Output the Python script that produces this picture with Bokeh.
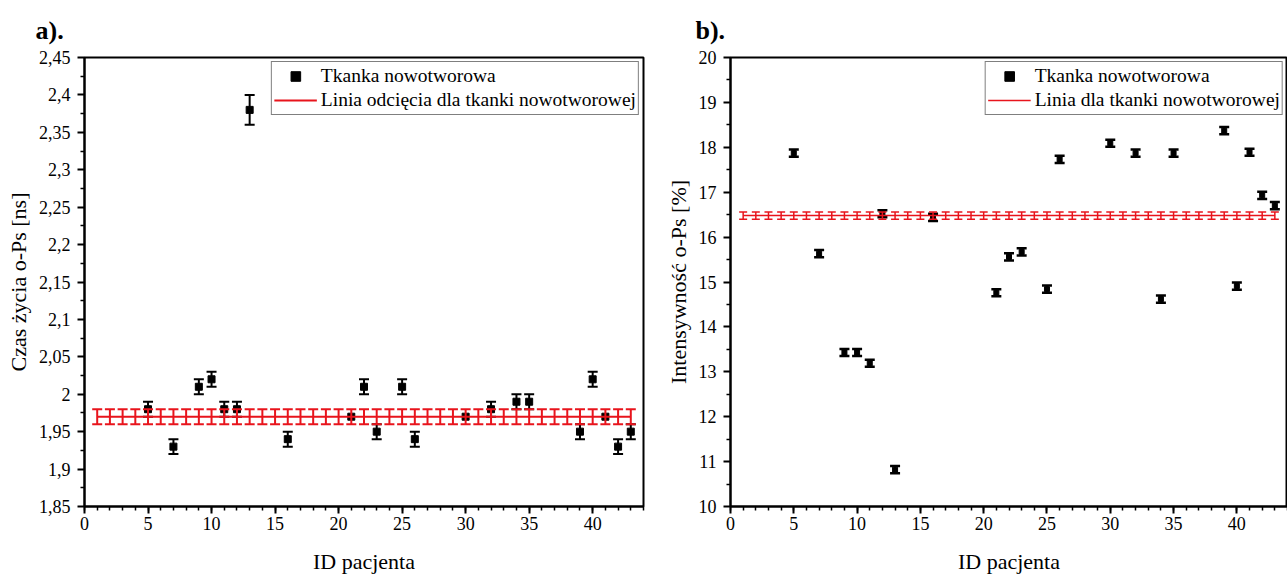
from bokeh.plotting import figure
from bokeh.layouts import row
from bokeh.models import (FixedTicker, CustomJSTickFormatter, Legend, LegendItem,
                          Range1d)
from bokeh.embed import file_html
from bokeh.resources import INLINE

# ---------------- data ----------------
patient_ids = [5, 7, 9, 10, 11, 12, 13, 16, 21, 22, 23, 25, 26, 30, 32, 34, 35, 39, 40, 41, 42, 43]
lifetime_ns = [1.98, 1.93, 2.01, 2.02, 1.98, 1.98, 2.38, 1.94, 1.97, 2.01, 1.95,
               2.01, 1.94, 1.97, 1.98, 1.99, 1.99, 1.95, 2.02, 1.97, 1.93, 1.95]
lifetime_err = [0.01, 0.01, 0.01, 0.01, 0.01, 0.01, 0.02, 0.01, 0.0, 0.01, 0.01,
                0.01, 0.01, 0.0, 0.01, 0.01, 0.01, 0.01, 0.01, 0.0, 0.01, 0.01]
intensity_pct = [17.87, 15.63, 13.43, 13.43, 13.19, 16.52, 10.82, 16.44, 14.76, 15.56, 15.67,
                 14.84, 17.73, 18.09, 17.87, 14.62, 17.87, 18.37, 14.91, 17.89, 16.93, 16.70]
intensity_err = [0.08, 0.08, 0.08, 0.08, 0.08, 0.08, 0.08, 0.08, 0.08, 0.08, 0.08,
                 0.08, 0.08, 0.08, 0.08, 0.08, 0.08, 0.08, 0.08, 0.08, 0.08, 0.08]

cutoff_ids = list(range(1, 44))
lifetime_cutoff = 1.97
lifetime_cutoff_err = 0.01
intensity_cutoff = 16.48
intensity_cutoff_err = 0.08

x_ticks = [0, 5, 10, 15, 20, 25, 30, 35, 40]
x_minor = list(range(0, 45))
lifetime_ticks = [1.85, 1.9, 1.95, 2.0, 2.05, 2.1, 2.15, 2.2, 2.25, 2.3, 2.35, 2.4, 2.45]
lifetime_minor = [1.875, 1.925, 1.975, 2.025, 2.075, 2.125, 2.175, 2.225, 2.275, 2.325, 2.375, 2.425]
intensity_ticks = [10, 11, 12, 13, 14, 15, 16, 17, 18, 19, 20]
intensity_minor = [10.5, 11.5, 12.5, 13.5, 14.5, 15.5, 16.5, 17.5, 18.5, 19.5]

FONT = "Liberation Serif"


def errorbars(p, xs, ys, errs, color, lw, cap):
    sel = [i for i in range(len(xs)) if errs[i] > 0]
    ex = [xs[i] for i in sel]
    lo = [ys[i] - errs[i] for i in sel]
    hi = [ys[i] + errs[i] for i in sel]
    p.segment(ex, lo, ex, hi, line_color=color, line_width=lw)
    p.scatter(ex, lo, marker="dash", size=cap, line_color=color, line_width=lw)
    p.scatter(ex, hi, marker="dash", size=cap, line_color=color, line_width=lw)


def make_panel(title, width, left_border, right_border, title_offset, x_end, y_lo, y_hi,
               yticks, yminor, ylabel, ys, yerr, sq_size, blk_lw, blk_cap, cut_val, cut_err,
               red_lw, red_cap, label_black, label_red, comma=False):
    p = figure(width=width, height=576, x_range=Range1d(0, x_end), y_range=Range1d(y_lo, y_hi),
               output_backend="svg", toolbar_location=None,
               min_border_left=left_border, min_border_right=right_border,
               min_border_top=57, min_border_bottom=70)
    p.grid.visible = False
    p.background_fill_color = "white"
    p.border_fill_color = "white"
    p.outline_line_color = "black"
    p.outline_line_width = 2

    p.title.text = title
    p.title.text_font = FONT
    p.title.text_font_size = "26px"
    p.title.text_font_style = "bold"
    p.title.text_color = "black"
    p.title.align = "left"
    p.title.offset = title_offset
    p.title.standoff = 25

    p.xaxis.ticker = FixedTicker(ticks=x_ticks, minor_ticks=x_minor)
    p.yaxis.ticker = FixedTicker(ticks=yticks, minor_ticks=yminor)
    if comma:
        p.yaxis.formatter = CustomJSTickFormatter(
            code=r"return tick.toFixed(2).replace(/0+$/,'').replace(/\.$/,'').replace('.', ',');")
    p.xaxis.axis_label = "ID pacjenta"
    p.yaxis.axis_label = ylabel
    for ax in (p.xaxis, p.yaxis):
        ax.axis_line_width = 2
        ax.axis_line_color = "black"
        ax.major_tick_line_width = 2
        ax.minor_tick_line_width = 1.5
        ax.major_tick_out = 7
        ax.major_tick_in = 0
        ax.minor_tick_out = 4
        ax.minor_tick_in = 0
        ax.major_label_text_font = FONT
        ax.major_label_text_font_size = "18px"
        ax.major_label_text_color = "black"
        ax.axis_label_text_font = FONT
        ax.axis_label_text_font_size = "22px"
        ax.axis_label_text_font_style = "normal"
        ax.axis_label_text_color = "black"
        ax.axis_label_text_line_height = 1.0
        ax.major_label_text_line_height = 1.0
    p.yaxis.major_label_standoff = 7
    p.xaxis.major_label_standoff = 3
    p.yaxis.axis_label_standoff = 5
    p.xaxis.axis_label_standoff = 16

    # black series
    errorbars(p, patient_ids, ys, yerr, "black", blk_lw, blk_cap)
    sq = p.scatter(patient_ids, ys, marker="square", size=sq_size, fill_color="black",
                   line_color="black")

    # red cut-off series
    cut_y = [cut_val for _ in cutoff_ids]
    cut_e = [cut_err for _ in cutoff_ids]
    ln = p.line(cutoff_ids, cut_y, line_color="#e8141c", line_width=red_lw)
    errorbars(p, cutoff_ids, cut_y, cut_e, "#e8141c", red_lw, red_cap)

    legend = Legend(items=[LegendItem(label=label_black, renderers=[sq]),
                           LegendItem(label=label_red, renderers=[ln])],
                    location="top_right")
    legend.label_text_font = FONT
    legend.label_text_font_size = "19.5px"
    legend.label_text_color = "black"
    legend.glyph_width = 43
    legend.glyph_height = 24
    legend.label_height = 24
    legend.padding = 2
    legend.spacing = 0
    legend.margin = 4
    legend.label_standoff = 4
    legend.border_line_color = "black"
    legend.border_line_width = 1
    legend.background_fill_alpha = 1
    p.add_layout(legend)
    return p


pa = make_panel("a).", 654, 84, 11, -49, 44, 1.85, 2.45, lifetime_ticks, lifetime_minor,
                "Czas życia o-Ps [ns]", lifetime_ns, lifetime_err, 7, 2, 10,
                lifetime_cutoff, lifetime_cutoff_err, 2, 10,
                "Tkanka nowotworowa", "Linia odcięcia dla tkanki nowotworowej", comma=True)
pb = make_panel("b).", 633, 76, 0, -35, 44, 10, 20, intensity_ticks, intensity_minor,
                "Intensywność o-Ps [%]", intensity_pct, intensity_err, 5, 2.5, 10,
                intensity_cutoff, intensity_cutoff_err, 1.5, 8,
                "Tkanka nowotworowa", "Linia dla tkanki nowotworowej")

layout = row(pa, pb)
open("out.html", "w").write(file_html(layout, INLINE))
